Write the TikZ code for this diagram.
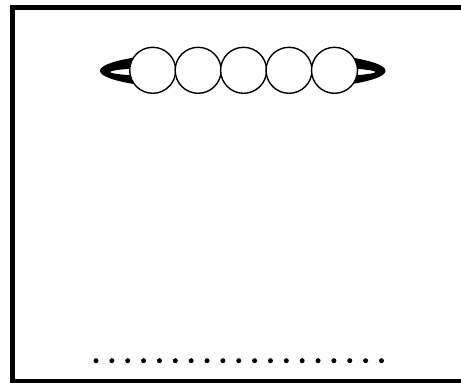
\documentclass[tikz,border=0pt]{standalone}
\usetikzlibrary{calc}
\begin{document}
\begin{tikzpicture}[x=1pt,y=-1pt,
  bead/.style={circle,draw=black,fill=white,line width=1.4pt,minimum size=46pt,inner sep=0pt},
  dotmark/.style={circle,fill=black,minimum size=5pt,inner sep=0pt},
  frame/.style={draw=black,line width=5pt}]
  \useasboundingbox (0,0) rectangle (461,383);
  % frame
  \draw[frame] (12,7.5) rectangle (463,381.5);
  % thick loop behind beads (only ends visible)
  \begin{scope}
    \clip (0,0) rectangle (153,140) (334,0) rectangle (461,140);
    \fill[black,even odd rule] (242.8,70.8) ellipse [x radius=142.8,y radius=20.5]
          (242.8,72) ellipse [x radius=132.5,y radius=6.2];
  \end{scope}
  % beads
  \foreach \i in {0,...,4}{
    \node[bead] (b\i) at ({152.7+45.45*\i},70.3) {};
  }
  % dots
  \foreach \i in {0,...,18}{
    \node[dotmark] (d\i) at ({96+15.86*\i},360.7) {};
  }
\end{tikzpicture}
\end{document}
